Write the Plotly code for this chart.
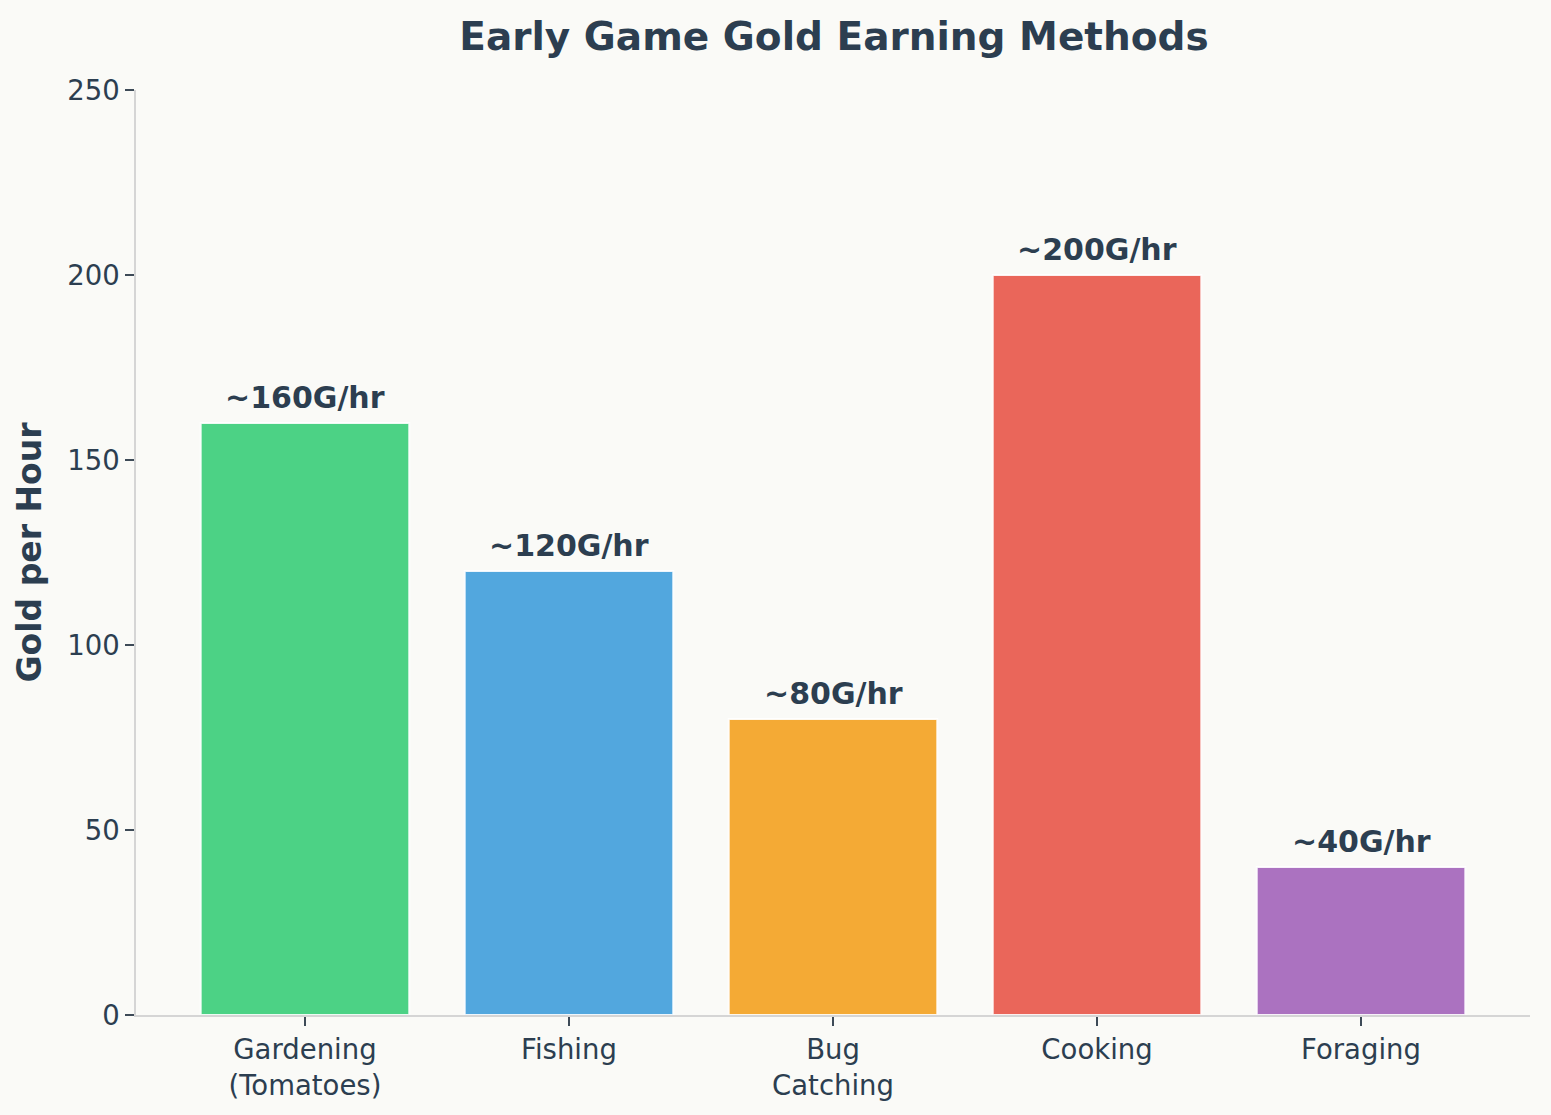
import plotly.graph_objects as go

categories = ["Gardening<br>(Tomatoes)", "Fishing", "Bug<br>Catching", "Cooking", "Foraging"]
values = [160, 120, 80, 200, 40]
labels = ["~160G/hr", "~120G/hr", "~80G/hr", "~200G/hr", "~40G/hr"]
colors = ["#4cd285", "#52a7de", "#f4aa35", "#ea665a", "#ab72c0"]
yticks = [0, 50, 100, 150, 200, 250]

TXT = "#2c3e50"
FONT = "DejaVu Sans"

fig = go.Figure()
fig.add_trace(go.Bar(
    x=list(range(len(categories))), y=values, width=0.79,
    marker=dict(color=colors, line=dict(color="rgba(255,255,255,0.9)", width=2)),
    hoverinfo="skip",
))
for i, (v, t) in enumerate(zip(values, labels)):
    fig.add_annotation(x=i, y=v, text=f"<b>{t}</b>", showarrow=False,
                       yanchor="bottom", yshift=6,
                       font=dict(family=FONT, size=30, color=TXT))

fig.update_layout(
    width=1551, height=1115,
    paper_bgcolor="#fafaf7", plot_bgcolor="#fafaf7",
    margin=dict(l=136, r=21, t=90, b=100),
    font=dict(family=FONT, color=TXT, size=27),
    title=dict(text="<b>Early Game Gold Earning Methods</b>", x=0.5377, xanchor="center",
               y=0.967, yanchor="middle", font=dict(family=FONT, size=39, color=TXT)),
    showlegend=False,
    xaxis=dict(range=[-0.64, 4.64], tickvals=list(range(len(categories))), ticktext=categories,
               showgrid=False, zeroline=False, showline=True, linecolor="#d5d5d5", linewidth=1.5,
               ticks="outside", ticklen=9, tickcolor="#3d4a57", tickwidth=1.5,
               tickfont=dict(family=FONT, size=27.5, color=TXT)),
    yaxis=dict(range=[0, 250], tickvals=yticks, showgrid=False, zeroline=False,
               showline=True, linecolor="#d5d5d5", linewidth=1.5,
               ticks="outside", ticklen=9, tickcolor="#3d4a57", tickwidth=1.5,
               tickfont=dict(family=FONT, size=27.5, color=TXT),
               title=dict(text="<b>Gold per Hour</b>", standoff=16,
                          font=dict(family=FONT, size=33, color=TXT))),
)
fig.write_html("out.html", config={"displayModeBar": False},
               post_script="document.body.style.margin='0';document.body.style.padding='0';")
